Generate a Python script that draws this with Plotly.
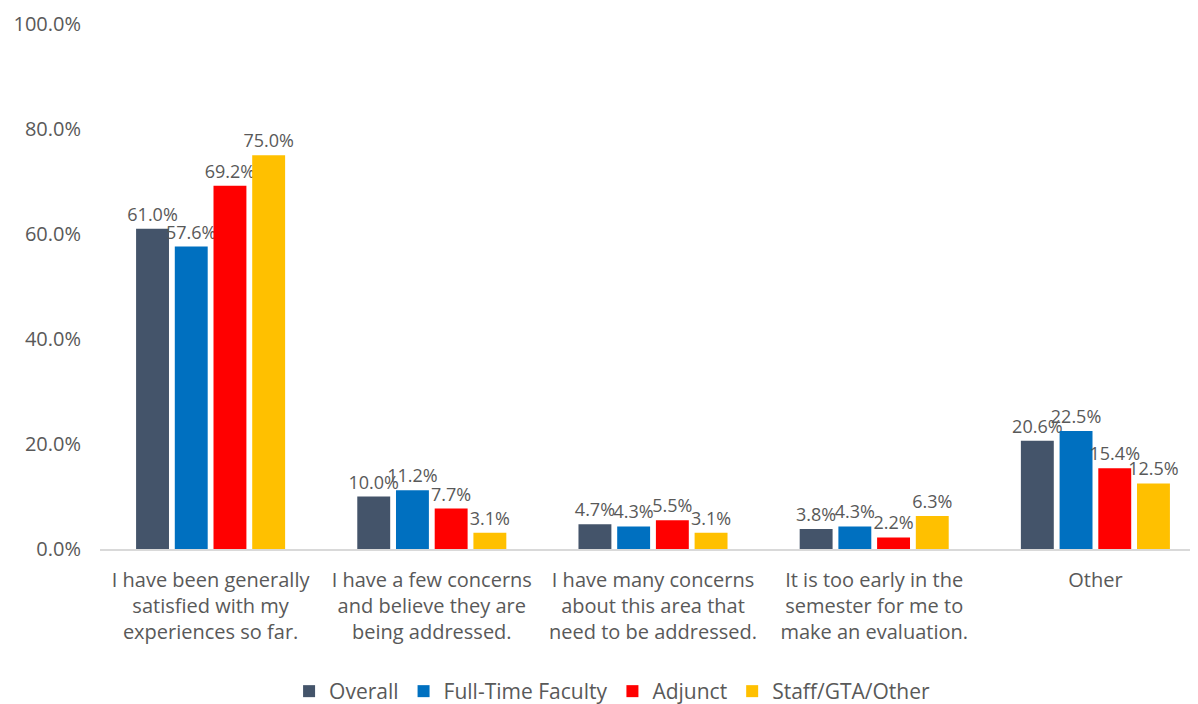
import plotly.graph_objects as go

# categories and series (percent)
categories = [
    "I have been generally<br>satisfied with my<br>experiences so far.",
    "I have a few concerns<br>and believe they are<br>being addressed.",
    "I have many concerns<br>about this area that<br>need to be addressed.",
    "It is too early in the<br>semester for me to<br>make an evaluation.",
    "Other",
]
overall = [61.0, 10.0, 4.7, 3.8, 20.6]
full_time = [57.6, 11.2, 4.3, 4.3, 22.5]
adjunct = [69.2, 7.7, 5.5, 2.2, 15.4]
staff = [75.0, 3.1, 3.1, 6.3, 12.5]

series = [
    ("Overall", overall, "#44546A"),
    ("Full-Time Faculty", full_time, "#0070C0"),
    ("Adjunct", adjunct, "#FF0000"),
    ("Staff/GTA/Other", staff, "#FFC000"),
]

grey = "#595959"
font_family = "Open Sans, Lato, sans-serif"

fig = go.Figure()
for name, vals, col in series:
    fig.add_trace(go.Bar(
        x=categories, y=vals, name=name,
        marker=dict(color=col, line=dict(width=0)),
        texttemplate="%{y:.1f}%", textposition="outside",
        textfont=dict(size=18, color=grey, family=font_family),
        constraintext="none", cliponaxis=False,
    ))

# page body adds an 8px offset, so margins are set 8px smaller
fig.update_layout(
    width=1198, height=704,
    paper_bgcolor="white", plot_bgcolor="white",
    margin=dict(l=92, r=0, t=16, b=163),
    barmode="group", bargap=0.3, bargroupgap=0.15,
    font=dict(family=font_family, color=grey, size=20),
    legend=dict(orientation="h", x=0.463, xanchor="center", y=-0.272, yanchor="middle",
                font=dict(size=21, color=grey), traceorder="normal"),
    showlegend=True,
)
fig.update_yaxes(range=[0, 100], dtick=20, tickformat=".1f", ticksuffix="%",
                 showgrid=False, zeroline=False, showline=False, automargin=False,
                 tickfont=dict(size=20, color=grey), ticks="", ticklabelstandoff=18)
fig.update_xaxes(range=[-0.5, 4.5], showline=True, linecolor="#D9D9D9", linewidth=1.5,
                 automargin=False, ticklabelstandoff=12,
                 tickfont=dict(size=20, color=grey), ticks="")

fig.write_html("out.html")
